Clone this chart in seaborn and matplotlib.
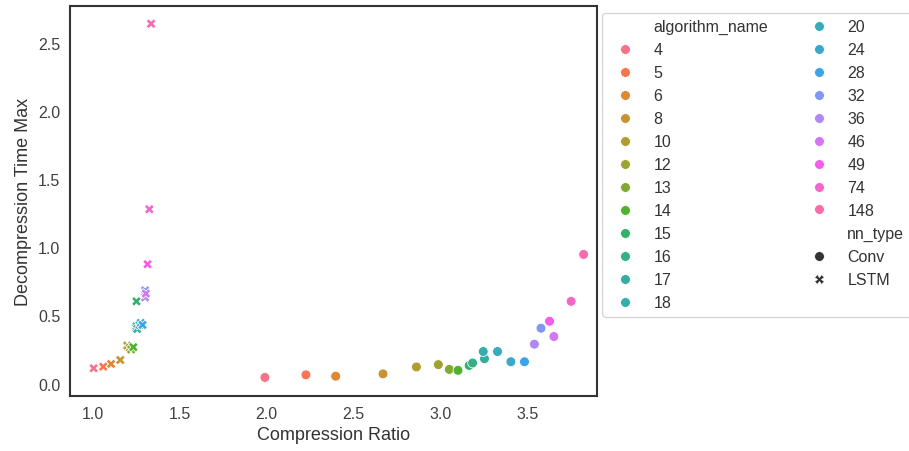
import matplotlib
matplotlib.use('Agg')
import matplotlib.pyplot as plt
import seaborn as sns
import pandas as pd

sns.set_style("white")
plt.rcParams['font.family'] = ['Liberation Sans', 'DejaVu Sans']
plt.rcParams['font.size'] = 11.5
plt.rcParams['text.color'] = '.2'
plt.rcParams['axes.labelcolor'] = '.2'
plt.rcParams['xtick.color'] = '.25'
plt.rcParams['ytick.color'] = '.25'

# Datos
algorithms = ['4', '5', '6', '8', '10', '12', '13', '14', '15', '16', '17',
              '18', '20', '24', '28', '32', '36', '46', '49', '74', '148']

conv_ratio = [1.99, 2.226, 2.397, 2.669, 2.861, 2.987, 3.05, 3.10, 3.164, 3.184, 3.252,
              3.245, 3.327, 3.404, 3.482, 3.577, 3.539, 3.651, 3.626, 3.75, 3.822]
conv_time = [0.045, 0.064, 0.054, 0.071, 0.122, 0.139, 0.104, 0.097, 0.133, 0.151, 0.182,
             0.235, 0.235, 0.16, 0.16, 0.406, 0.289, 0.345, 0.457, 0.603, 0.947]

lstm_ratio = [1.006, 1.061, 1.106, 1.159, 1.199, 1.214, 1.222, 1.234, 1.252, 1.248, 1.252,
              1.256, 1.27, 1.277, 1.287, 1.302, 1.302, 1.306, 1.316, 1.326, 1.336]
lstm_time = [0.112, 0.124, 0.144, 0.173, 0.279, 0.262, 0.25, 0.267, 0.603, 0.41, 0.42,
             0.40, 0.43, 0.445, 0.43, 0.683, 0.632, 0.66, 0.875, 1.278, 2.638]

df = pd.DataFrame({
    'algorithm_name': algorithms + algorithms,
    'nn_type': ['Conv'] * len(algorithms) + ['LSTM'] * len(algorithms),
    'compression_ratio': conv_ratio + lstm_ratio,
    'decompression_time_max': conv_time + lstm_time,
})

fig, ax = plt.subplots(figsize=(9.09, 4.52))
fig.subplots_adjust(left=0.077, right=0.657, top=0.985, bottom=0.122)

sns.scatterplot(data=df, x='compression_ratio', y='decompression_time_max',
                hue='algorithm_name', hue_order=algorithms, style='nn_type',
                palette='husl', s=50, ax=ax)

ax.set_xlabel('Compression Ratio', fontsize=13)
ax.set_ylabel('Decompression Time Max', fontsize=13)
ax.set_xticks([1.0, 1.5, 2.0, 2.5, 3.0, 3.5])
ax.set_yticks([0.0, 0.5, 1.0, 1.5, 2.0, 2.5])
ax.tick_params(labelsize=11.5)
ax.set_xlim(0.87, 3.9)
ax.set_ylim(-0.09, 2.77)
for sp in ax.spines.values():
    sp.set_linewidth(1.5)
    sp.set_color('.2')

ax.legend(bbox_to_anchor=(1.01, 0.982), loc='upper left', ncol=2,
          fontsize=11.5, borderaxespad=0, columnspacing=2.15, labelspacing=0.5)

fig.savefig('out.png', dpi=100)
plt.close()
